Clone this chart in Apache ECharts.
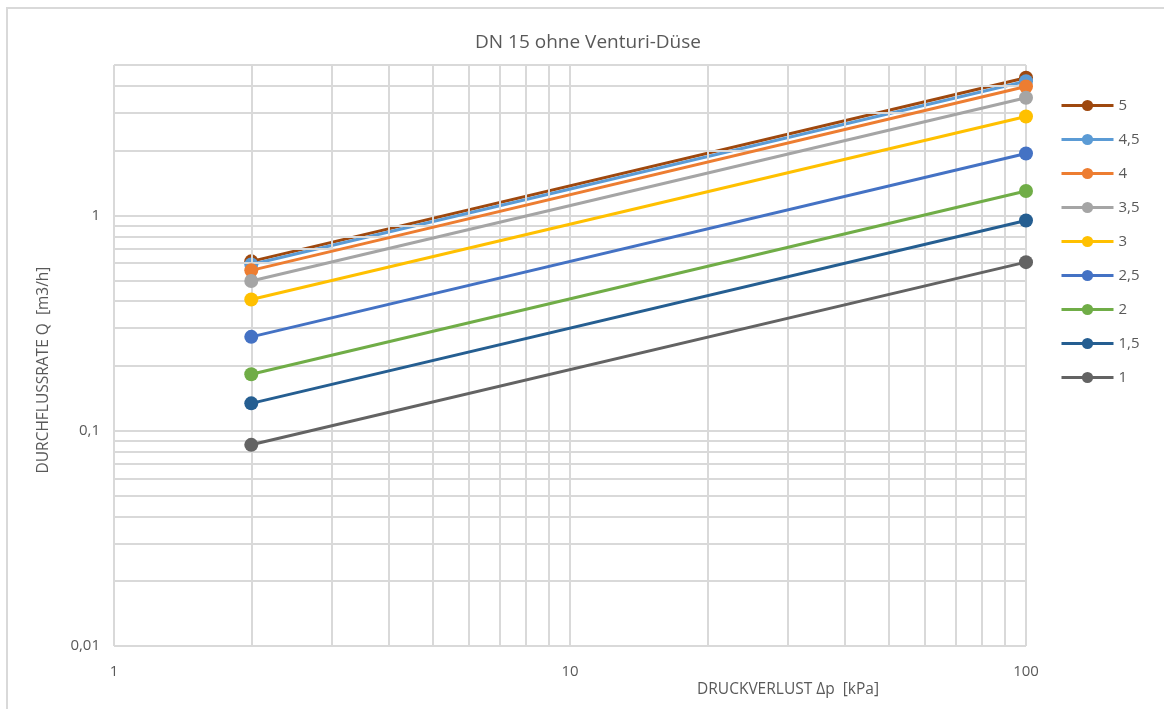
<!DOCTYPE html>
<html><head><meta charset="utf-8">
<script src="https://cdn.jsdelivr.net/npm/echarts@6/dist/echarts.min.js"></script>
<style>
html,body{margin:0;padding:0;background:#fff;overflow:hidden;width:1164px;height:709px;}
#frame{position:absolute;left:6px;top:7px;width:1158px;height:702px;border-left:2px solid #d9d9d9;border-top:2px solid #d9d9d9;box-sizing:border-box;}
#c{position:absolute;left:0;top:0;width:1164px;height:709px;}
</style></head>
<body><div id="frame"></div><div id="c"></div>
<script>
const pressure = [2, 100];
const seriesNames = ['5', '4,5', '4', '3,5', '3', '2,5', '2', '1,5', '1'];
const q5   = [0.612, 4.36];
const q45  = [0.592, 4.20];
const q4   = [0.556, 3.97];
const q35  = [0.496, 3.52];
const q3   = [0.407, 2.88];
const q25  = [0.273, 1.94];
const q2   = [0.183, 1.30];
const q15  = [0.134, 0.948];
const q1   = [0.0860, 0.607];
const seriesValues = [q5, q45, q4, q35, q3, q25, q2, q15, q1];
const colors = ['#9E480E', '#5B9BD5', '#ED7D31', '#A5A5A5', '#FFC000', '#4472C4', '#70AD47', '#255E91', '#636363'];
const xTicks = [1, 10, 100];
const yTicks = [0.01, 0.1, 1];
const yMax = 5;

// minor gridline positions (2..9 within each decade)
const xMinor = [];
for (const d of [1, 10]) for (let k = 2; k <= 9; k++) xMinor.push(k * d);
const yMinor = [];
for (const d of [0.01, 0.1, 1]) for (let k = 2; k <= 9; k++) if (k * d <= yMax + 1e-9) yMinor.push(+(k * d).toFixed(4));

const font = '"Open Sans", "Noto Sans", sans-serif';
const txt = '#595959';
const gridColor = '#d9d9d9';

const chart = echarts.init(document.getElementById('c'), null, {renderer: 'canvas'});
const series = seriesNames.map((n, i) => ({
  name: n, type: 'line', z: 3 + i,
  data: pressure.map((p, j) => [p, seriesValues[i][j]]),
  symbol: 'circle', symbolSize: 14,
  lineStyle: {width: 3, color: colors[i]},
  itemStyle: {color: colors[i]},
  animation: false
}));
series.unshift({
  type: 'line', data: [], z: 1, silent: true, animation: false,
  markLine: {
    silent: true, symbol: ['none', 'none'], animation: false,
    label: {show: false},
    lineStyle: {color: gridColor, width: 2, type: 'solid'},
    data: xMinor.map(v => ({xAxis: v})).concat(yMinor.map(v => ({yAxis: v})))
  }
});

chart.setOption({
  backgroundColor: 'transparent',
  animation: false,
  grid: {left: 114, right: 138, top: 65, bottom: 63, containLabel: false},
  xAxis: {
    type: 'log', logBase: 10, min: 1, max: 100,
    axisLine: {show: false}, axisTick: {show: false},
    axisLabel: {color: txt, fontFamily: font, fontSize: 15, margin: 18,
      formatter: v => String(v).replace('.', ',')},
    splitLine: {show: true, lineStyle: {color: gridColor, width: 2}}
  },
  yAxis: {
    type: 'log', logBase: 10, min: 0.01, max: yMax,
    axisLine: {show: false}, axisTick: {show: false},
    axisLabel: {color: txt, fontFamily: font, fontSize: 15, margin: 14,
      formatter: v => yTicks.some(t => Math.abs(t - v) < 1e-9) ? String(v).replace('.', ',') : ''},
    splitLine: {show: true, lineStyle: {color: gridColor, width: 2}}
  },
  legend: {
    orient: 'vertical', left: 1055, top: 93,
    itemWidth: 52, itemHeight: 14, itemGap: 19,
    data: seriesNames,
    lineStyle: {width: 3},
    textStyle: {color: txt, fontFamily: font, fontSize: 15}
  },
  graphic: [
    {type: 'text', x: 588, y: 43, style: {text: 'DN 15 ohne Venturi-Düse', fill: txt, font: '19px ' + font, align: 'center', verticalAlign: 'middle'}},
    {type: 'text', x: 788, y: 690, style: {text: 'DRUCKVERLUST Δp  [kPa]', fill: txt, font: '15.5px ' + font, align: 'center', verticalAlign: 'middle'}},
    {type: 'text', x: 44, y: 370, rotation: Math.PI / 2, style: {text: 'DURCHFLUSSRATE Q  [m3/h]', fill: txt, font: '15.5px ' + font, align: 'center', verticalAlign: 'middle'}}
  ],
  series: series
});
</script>
</body></html>
